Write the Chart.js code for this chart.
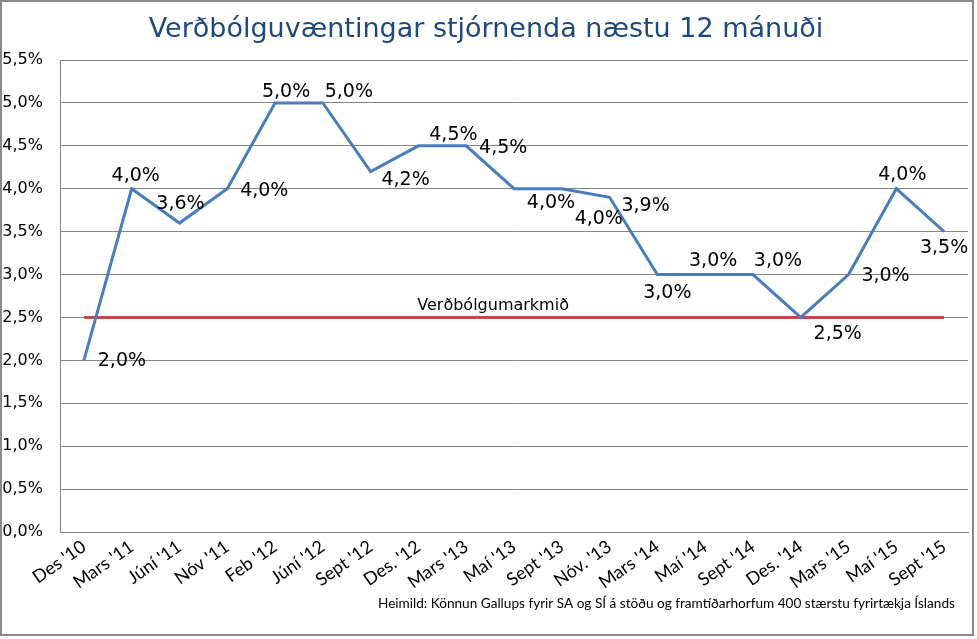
<!DOCTYPE html>
<html>
<head>
<meta charset="utf-8">
<script src="https://cdn.jsdelivr.net/npm/chart.js@4"></script>
<style>
  html, body { margin: 0; padding: 0; background: #fff; }
  #wrap { width: 977px; height: 639px; position: relative; }
</style>
</head>
<body>
<div id="wrap"><canvas id="chart" width="977" height="639"></canvas></div>
<script>
/* =========================================================
   Data
========================================================= */

const categories = [
  "Des '10", "Mars '11", "Júní '11", "Nóv '11", "Feb '12", "Júní '12",
  "Sept '12", "Des. '12", "Mars '13", "Maí '13", "Sept '13", "Nóv. '13",
  "Mars '14", "Maí '14", "Sept '14", "Des. '14", "Mars '15", "Maí '15", "Sept '15"
];

const expectations = [2.0, 4.0, 3.6, 4.0, 5.0, 5.0, 4.2, 4.5, 4.5, 4.0, 4.0, 3.9, 3.0, 3.0, 3.0, 2.5, 3.0, 4.0, 3.5];

const inflationTarget = [2.5, 2.5, 2.5, 2.5, 2.5, 2.5, 2.5, 2.5, 2.5, 2.5, 2.5, 2.5, 2.5, 2.5, 2.5, 2.5, 2.5, 2.5, 2.5];

const yTicks = [0, 0.5, 1, 1.5, 2, 2.5, 3, 3.5, 4, 4.5, 5, 5.5];

const titleText = 'Verðbólguvæntingar stjórnenda næstu 12 mánuði';
const targetLabel = 'Verðbólgumarkmið';
const sourceText = 'Heimild: Könnun Gallups fyrir SA og SÍ á stöðu og framtíðarhorfum 400 stærstu fyrirtækja Íslands';

/* =========================================================
   Styling
========================================================= */

const mainFont = "'DejaVu Sans', Verdana, sans-serif";
const axisFont = "Lato, 'Open Sans', sans-serif";
const gridColor = '#868686';

// where each data label sits, relative to its point (dx, dy)
const labelOffsets = [
  [38, 1], [4, -13], [1, -19], [37, 2], [11, -11], [26, -11],
  [35, 8], [35, -11], [37, 2], [37, 14], [37, 30], [36, 9],
  [10, 19], [8, -13], [25, -13], [37, 17], [37, 2], [6, -14], [0, 16]
];

const fmt = v => v.toFixed(1).replace('.', ',') + '%';

/* =========================================================
   Plugin: title, data labels, target label, source, border
========================================================= */

const decorations = {
  id: 'decorations',
  afterDatasetsDraw(chart) {
    const { ctx, scales: { x, y } } = chart;
    ctx.save();

    // data labels
    ctx.font = `19px ${mainFont}`;
    ctx.fillStyle = '#000';
    ctx.textAlign = 'center';
    ctx.textBaseline = 'middle';
    const meta = chart.getDatasetMeta(0);
    meta.data.forEach((pt, i) => {
      const [dx, dy] = labelOffsets[i];
      ctx.fillText(fmt(expectations[i]), pt.x + dx, pt.y + dy);
    });

    // target line label
    ctx.font = `16px ${mainFont}`;
    const tx = (x.getPixelForValue(8) + x.getPixelForValue(9)) / 2 + 3;
    ctx.fillText(targetLabel, tx, y.getPixelForValue(2.5) - 12);

    ctx.restore();
  },
  afterDraw(chart) {
    const { ctx, width, height } = chart;
    ctx.save();

    // title
    ctx.font = `27px ${mainFont}`;
    ctx.fillStyle = '#1F497D';
    ctx.textAlign = 'center';
    ctx.textBaseline = 'alphabetic';
    ctx.fillText(titleText, 486, 37);

    // source
    ctx.font = `13.6px ${axisFont}`;
    ctx.fillStyle = '#000';
    ctx.textAlign = 'left';
    ctx.fillText(sourceText, 378, 608);

    // outer border
    ctx.strokeStyle = '#898989';
    ctx.lineWidth = 2;
    ctx.strokeRect(1, 1, width - 5, height - 5);

    ctx.restore();
  }
};

/* =========================================================
   Chart
========================================================= */

new Chart(document.getElementById('chart'), {
  type: 'line',
  data: {
    labels: categories,
    datasets: [
      {
        label: 'Væntingar',
        data: expectations,
        borderColor: '#4A7EBB',
        borderWidth: 3,
        pointRadius: 0,
        tension: 0
      },
      {
        label: targetLabel,
        data: inflationTarget,
        borderColor: '#BE4B48',
        borderWidth: 3,
        pointRadius: 0,
        tension: 0
      }
    ]
  },
  options: {
    responsive: false,
    animation: false,
    devicePixelRatio: 1,
    layout: { padding: { left: 3, right: 9, top: 60, bottom: 0 } },
    plugins: {
      legend: { display: false },
      tooltip: { enabled: false },
      title: { display: false }
    },
    scales: {
      x: {
        offset: true,
        grid: { display: false, drawTicks: false },
        border: { color: gridColor, width: 1 },
        ticks: {
          color: '#000',
          font: { family: axisFont, size: 18 },
          minRotation: 35,
          maxRotation: 35,
          padding: 4,
          autoSkip: false
        },
        afterFit(scale) { scale.height = 107; }
      },
      y: {
        min: 0,
        max: 5.5,
        afterBuildTicks(scale) { scale.ticks = yTicks.map(v => ({ value: v })); },
        grid: { color: gridColor, lineWidth: 1, drawTicks: false },
        border: { color: gridColor, width: 1 },
        ticks: {
          color: '#000',
          font: { family: mainFont, size: 16 },
          padding: 17,
          callback: v => fmt(v)
        },
        afterFit(scale) { scale.width = 57; }
      }
    }
  },
  plugins: [decorations]
});
</script>
</body>
</html>
